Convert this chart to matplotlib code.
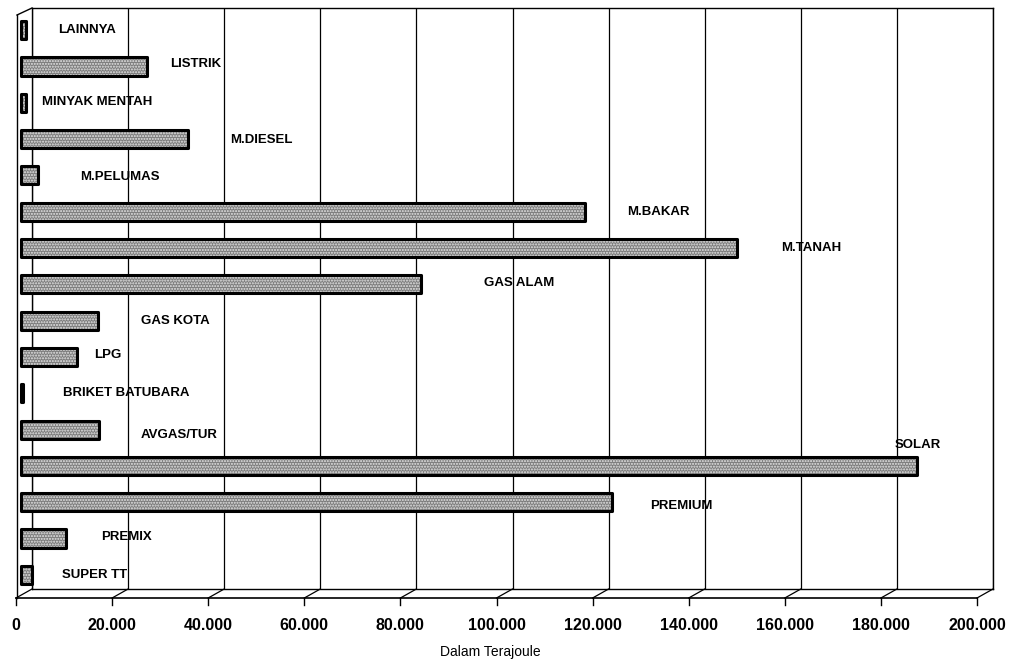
import numpy as np
import matplotlib.pyplot as plt
from matplotlib.transforms import ScaledTranslation, blended_transform_factory

# Konsumsi energi per jenis (Terajoule), urut dari bawah ke atas
categories = ['SUPER TT', 'PREMIX', 'PREMIUM', 'SOLAR', 'AVGAS/TUR', 'BRIKET BATUBARA',
              'LPG', 'GAS KOTA', 'GAS ALAM', 'M.TANAH', 'M.BAKAR', 'M.PELUMAS',
              'M.DIESEL', 'MINYAK MENTAH', 'LISTRIK', 'LAINNYA']
values = [2300, 9400, 123000, 186500, 16200, 500, 11700, 16000, 83200, 149000,
          117400, 3500, 34800, 1000, 26200, 1000]
ticks = np.arange(0, 200001, 20000)
tick_labels = [f'{t:,}'.replace(',', '.') for t in ticks]

# posisi label kategori (x dalam satuan data, geser y dalam satuan baris)
label_x = [8500, 16700, 130900, 181900, 25000, 8700, 15200, 25000, 96400, 158200,
           126100, 12300, 43500, 4400, 31000, 7700]
label_dy = [0, 0.05, -0.11, 0.58, -0.14, 0, 0.05, 0, 0.03, 0, 0, -0.05, -0.03, 0.03, 0.08, 0]

W, H = 1015, 669
fig = plt.figure(figsize=(W / 100, H / 100), dpi=100)
fig.patch.set_facecolor('white')


def px(dx, dy):
    return ScaledTranslation(dx / 100, dy / 100, fig.dpi_scale_trans)


# dinding belakang
L, R, T, B = 32, 993, 8, 589
ax = fig.add_axes([L / W, 1 - B / H, (R - L) / W, (B - T) / H])
ax.set_xlim(0, 200000)
ax.set_ylim(-0.5, len(categories) - 0.5)
ax.set_yticks([])
ax.set_xticks(ticks)
ax.set_xticklabels(tick_labels)
ax.tick_params(axis='x', length=0, pad=21, labelsize=11.5)
for lab in ax.get_xticklabels():
    lab.set_fontfamily('Liberation Sans')
    lab.set_fontweight('bold')
    lab.set_transform(lab.get_transform() + px(-16, 0))
ax.grid(axis='x', color='black', linewidth=0.9)
ax.set_axisbelow(True)
for s in ax.spines.values():
    s.set_color('black')
    s.set_linewidth(1.0)

# lantai (efek 3D): garis depan, garis miring dari tiap grid, dan tick di bawahnya
base = blended_transform_factory(ax.transData, ax.transAxes)
front = base + px(-16, -9)
for t in ticks:
    x0, y0 = base.transform((t, 0))
    x1, y1 = front.transform((t, 0))
    fig.add_artist(plt.Line2D([x0, x1], [y0, y1], transform=None, color='black', lw=0.9))
    fig.add_artist(plt.Line2D([x1, x1], [y1, y1 - 7], transform=None, color='black', lw=1.0))
ax.plot([0, 200000], [0, 0], transform=front, color='black', lw=1.2, clip_on=False)

# dinding kiri
lx0, ly_top = base.transform((0, 1))
_, ly_bot = base.transform((0, 0))
fig.add_artist(plt.Line2D([lx0 - 15, lx0], [ly_top - 7, ly_top], transform=None, color='black', lw=1.0))
fig.add_artist(plt.Line2D([lx0 - 15, lx0 - 15], [ly_top - 7, ly_bot - 9], transform=None,
                          color='black', lw=1.0))

# batang
bar_tr = ax.transData + px(-11, -4)
y = np.arange(len(categories))
fills = ax.barh(y, values, height=0.5, color='#7c7c7c', hatch='......', edgecolor='#e6e6e6',
                linewidth=0, zorder=3)
for p in fills:
    p.set_transform(bar_tr)
    p.set_clip_on(False)
outlines = ax.barh(y, values, height=0.5, fill=False, edgecolor='black', linewidth=2.2,
                   joinstyle='round', zorder=4)
for p in outlines:
    p.set_transform(bar_tr)
    p.set_clip_on(False)

for i, name in enumerate(categories):
    ax.text(label_x[i], i + label_dy[i], name, transform=bar_tr, va='center', ha='left',
            fontsize=9.5, fontweight='bold', family='Liberation Sans', zorder=5)

fig.text(490 / W, 1 - 652 / H, 'Dalam Terajoule', ha='center', va='center', fontsize=10,
         family='Liberation Sans')

fig.savefig('out.png', dpi=100)
